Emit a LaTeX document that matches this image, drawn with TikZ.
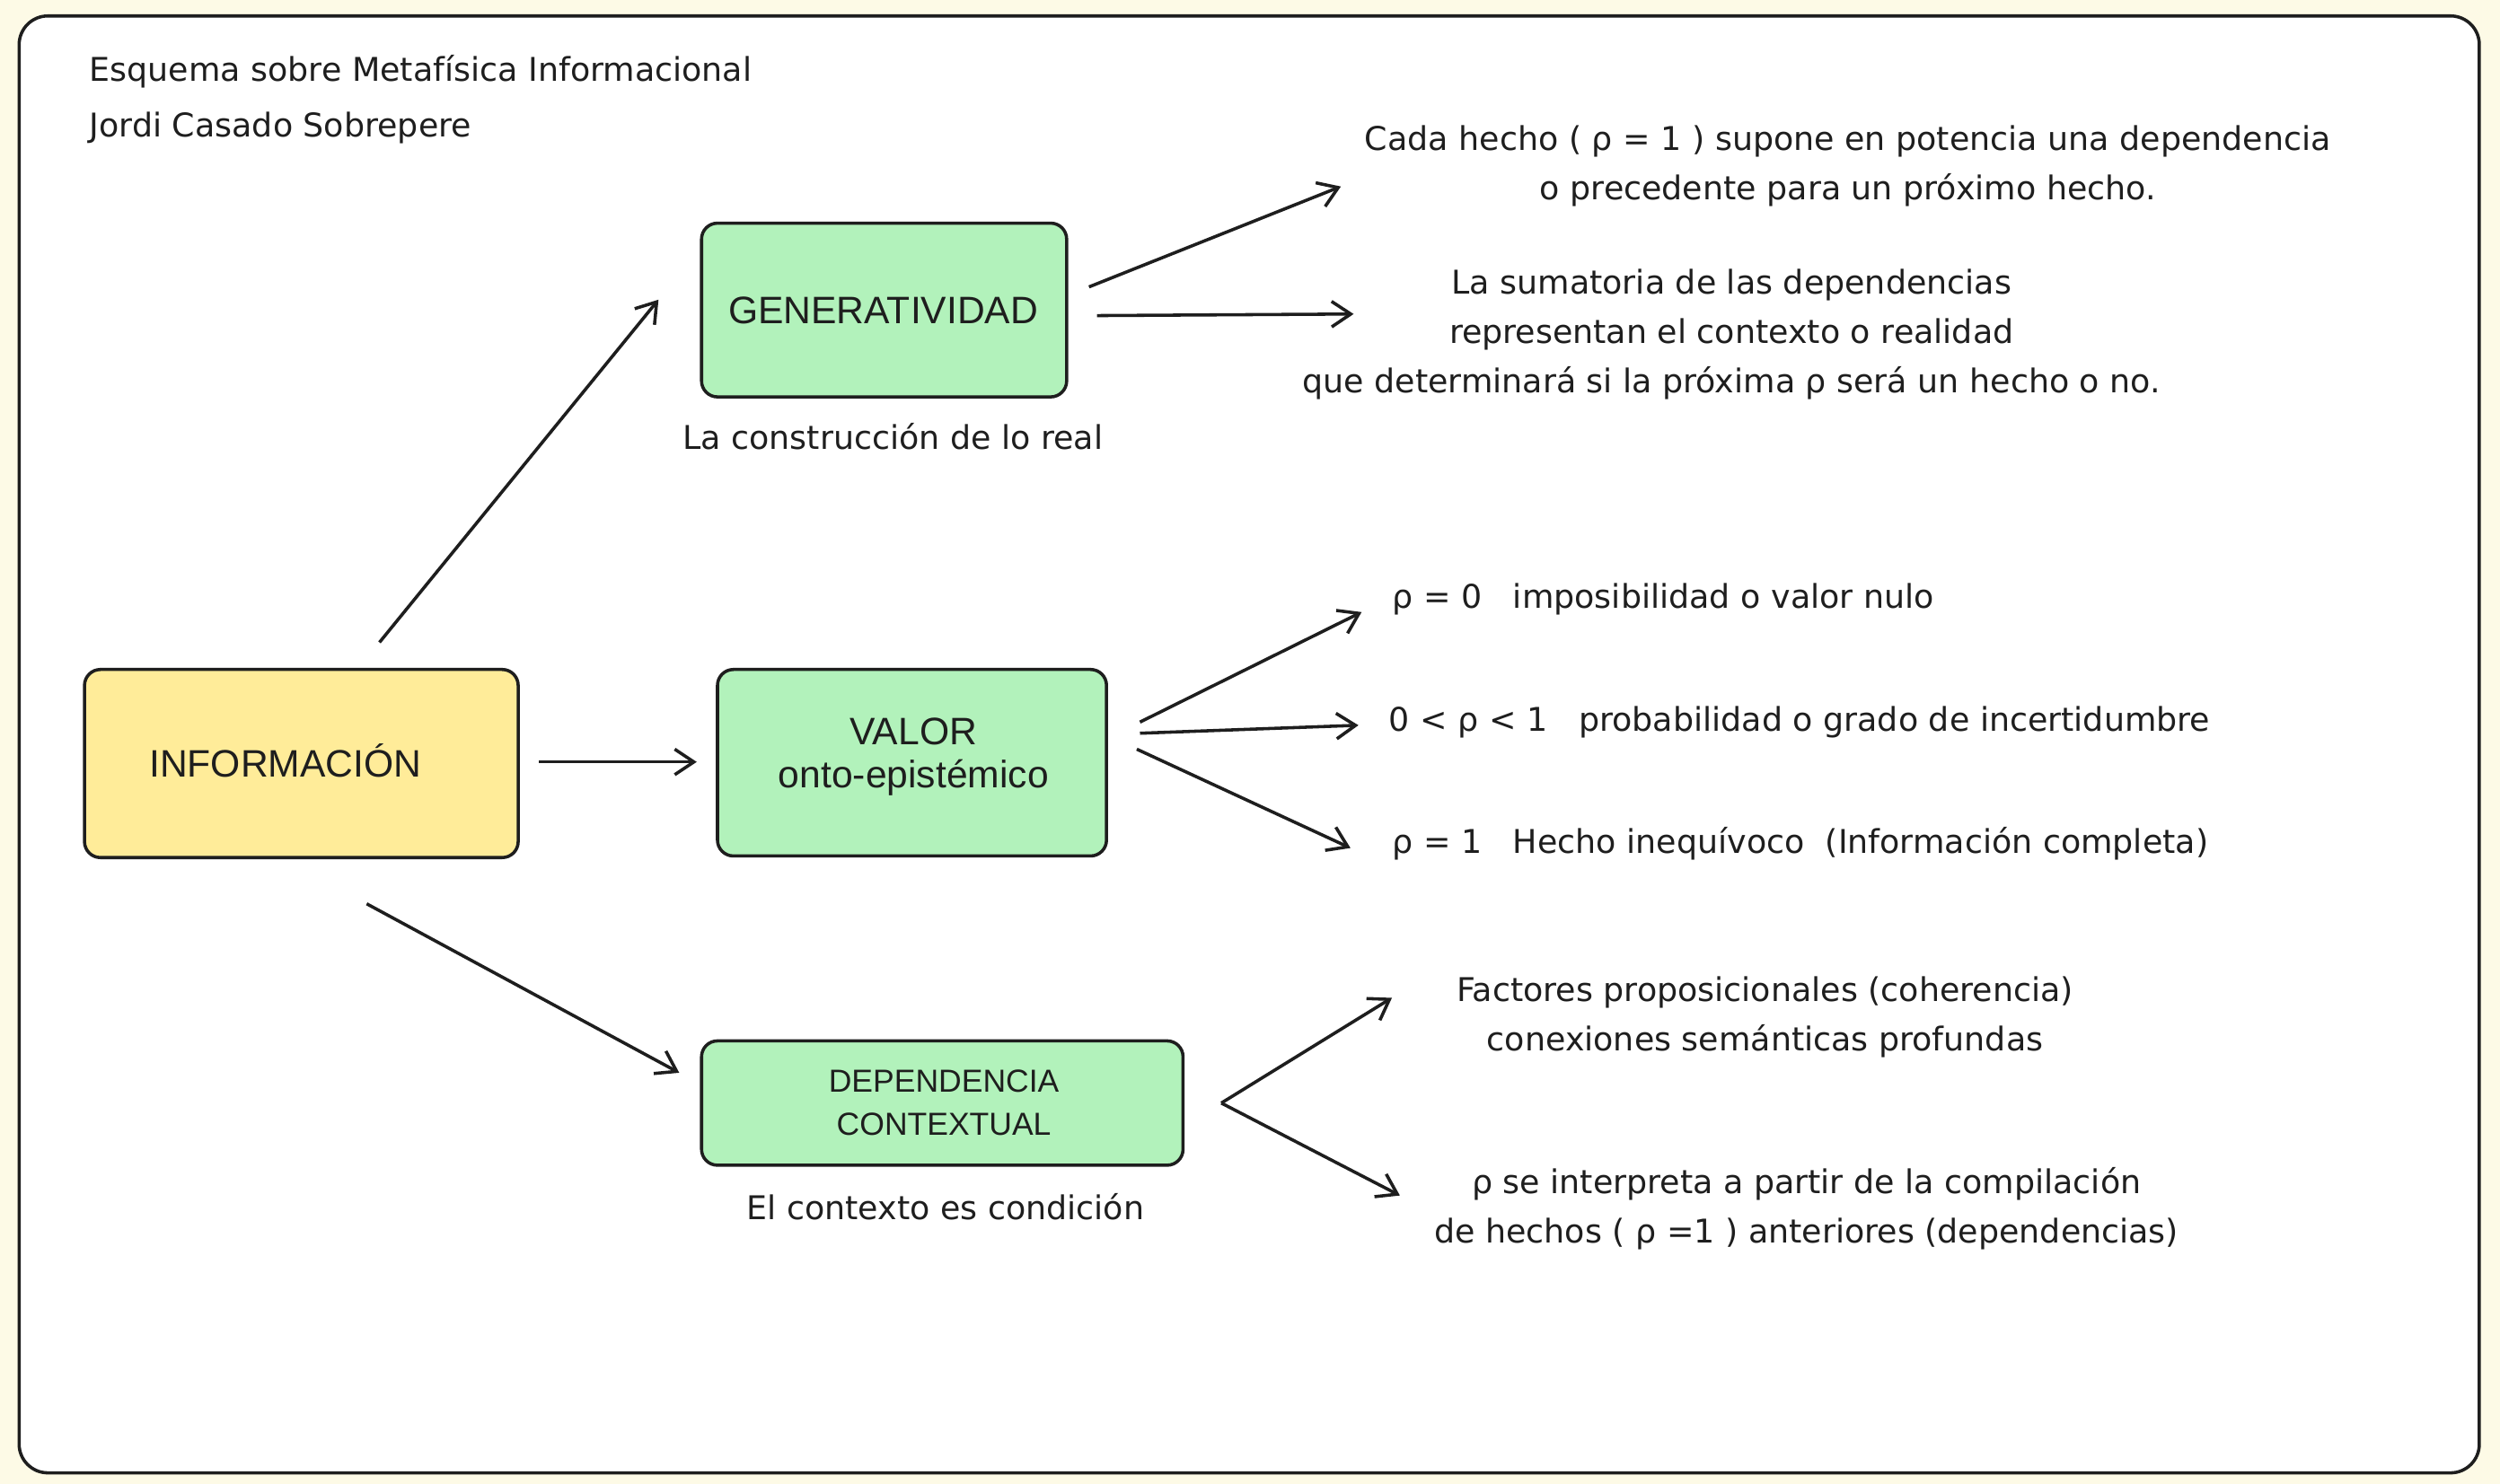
\documentclass[tikz,border=0pt]{standalone}
\usepackage{fontspec}
\setmainfont{DejaVu Sans}
\newfontfamily\boxfont{Liberation Sans}
\usetikzlibrary{arrows.meta}
\definecolor{bgc}{HTML}{FDFAE6}
\definecolor{grn}{HTML}{B2F2BB}
\definecolor{yel}{HTML}{FFEC99}
\definecolor{ink}{HTML}{1E1E1E}
\tikzset{
 bx/.style={draw=ink,line width=2pt,rounded corners=10pt,font=\boxfont\fontsize{24}{27}\selectfont,align=center,text=ink},
 arr/.style={draw=ink,line width=2pt,-{Straight Barb[length=12pt,width=16pt]}},
 lab/.style={font=\fontsize{20.5}{31}\selectfont,align=center,text=ink,inner sep=0pt},
}
\begin{document}
\begin{tikzpicture}[x=1pt,y=-1pt]
\useasboundingbox (0,0) rectangle (1568,931);
\fill[bgc] (0,0) rectangle (1568,931);
\draw[ink,line width=2pt,fill=white,rounded corners=18pt] (12,10) rectangle (1555,924);
\node[lab,anchor=west] (t1) at (56,45) {Esquema sobre Metafísica Informacional};
\node[lab,anchor=west] (t2) at (56,80) {Jordi Casado Sobrepere};

\path[bx,fill=yel] (53,420) rectangle (325,538);
\node[bx,draw=none] (inf) at (179,477) {INFORMACIÓN};
\path[bx,fill=grn] (440,140) rectangle (669,249);
\node[bx,draw=none] (gen) at (554,195) {GENERATIVIDAD};
\path[bx,fill=grn] (450,420) rectangle (694,537);
\node[bx,draw=none] (val) at (573,475) {VALOR\\onto-epistémico};
\path[bx,fill=grn] (440,653) rectangle (742,731);
\node[bx,draw=none,font=\boxfont\fontsize{20}{27}\selectfont] (dep) at (592,692) {DEPENDENCIA\\CONTEXTUAL};

\node[lab] (genl) at (560,274) {La construcción de lo real};
\node[lab] (depl) at (593,757) {El contexto es condición};

\node[lab] (g1) at (1159,104) {Cada hecho ( ρ = 1 ) supone en potencia una dependencia\\o precedente para un próximo hecho.};
\node[lab] (g2) at (1086,210) {La sumatoria de las dependencias\\representan el contexto o realidad\\que determinará si la próxima ρ será un hecho o no.};
\node[lab,anchor=west] (v1) at (873,376) {ρ = 0 \ \ imposibilidad o valor nulo};
\node[lab,anchor=west] (v2) at (871,453) {0 < ρ < 1 \ \ probabilidad o grado de incertidumbre};
\node[lab,anchor=west] (v3) at (873,529) {ρ = 1 \ \ Hecho inequívoco \ (Información completa)};
\node[lab] (d1) at (1107,638) {Factores proposicionales (coherencia)\\conexiones semánticas profundas};
\node[lab] (d2) at (1133,758) {ρ se interpreta a partir de la compilación\\de hechos ( ρ =1 ) anteriores (dependencias)};

\coordinate (a1) at (238,403); \coordinate (b1) at (413,188);
\coordinate (a2) at (338,478); \coordinate (b2) at (437,478);
\coordinate (a3) at (230,567); \coordinate (b3) at (426,673);
\coordinate (a4) at (683,180); \coordinate (b4) at (841,117);
\coordinate (a5) at (688,198); \coordinate (b5) at (849,197);
\coordinate (a6) at (715,453); \coordinate (b6) at (854,384);
\coordinate (a7) at (715,460); \coordinate (b7) at (852,455);
\coordinate (a8) at (713,470); \coordinate (b8) at (847,532);
\coordinate (a9) at (766,692); \coordinate (b9) at (873,626);
\coordinate (b10) at (878,750);
\foreach \s/\e in {a1/b1,a2/b2,a3/b3,a4/b4,a5/b5,a6/b6,a7/b7,a8/b8,a9/b9,a9/b10}
  \draw[arr] (\s) -- (\e);
\end{tikzpicture}
\end{document}
